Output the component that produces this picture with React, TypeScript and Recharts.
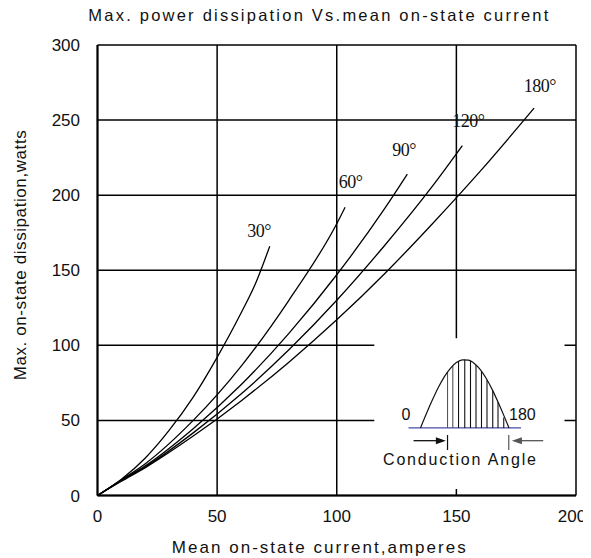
import {
  LineChart,
  Line,
  XAxis,
  YAxis,
  CartesianGrid,
  ReferenceArea,
  ReferenceLine,
  ReferenceDot,
  Label,
  Customized,
} from 'recharts';

const SANS = '"Liberation Sans", Arial, sans-serif';
const SERIF = '"Liberation Serif", "Times New Roman", serif';

const X_TICKS = [0, 50, 100, 150, 200];
const Y_TICKS = [0, 50, 100, 150, 200, 250, 300];

// conduction angles and their curves (mean current A -> dissipation W)
const ANGLES = ['30°', '60°', '90°', '120°', '180°'];
const CURRENT_30 = [0, 10, 20, 30, 40, 50, 60, 66, 72];
const POWER_30 = [0, 10.8, 25, 43.5, 65.5, 92, 121.5, 141, 166];
const CURRENT_60 = [0, 10, 20, 40, 60, 80, 100, 103.5];
const POWER_60 = [0, 10.5, 21.2, 50, 86, 130, 181, 192];
const CURRENT_90 = [0, 10, 20, 40, 60, 80, 100, 120, 129.5];
const POWER_90 = [0, 10.2, 19.8, 44.5, 73.7, 108, 147, 191, 214];
const CURRENT_120 = [0, 10, 20, 40, 60, 80, 100, 120, 140, 152.5];
const POWER_120 = [0, 10, 19.1, 41.7, 67.6, 97, 130, 166.5, 206, 233];
const CURRENT_180 = [0, 10, 20, 40, 60, 80, 100, 120, 140, 160, 182.5];
const POWER_180 = [0, 9.5, 18.6, 39.6, 63, 88.8, 117, 147.7, 181, 216, 258];

const CURRENTS = [CURRENT_30, CURRENT_60, CURRENT_90, CURRENT_120, CURRENT_180];
const POWERS = [POWER_30, POWER_60, POWER_90, POWER_120, POWER_180];

// where each angle label sits (data units)
const LABEL_X = [67.5, 105.8, 128.1, 155.0, 184.9];
const LABEL_Y = [172.3, 204.9, 226.2, 245.5, 268.8];

// inset: half-wave sketch
const WAVE_X = [135, 137.5, 140, 142.5, 145, 147.5, 150, 152.5, 155, 157.5, 160, 162.5, 165, 167.5, 170, 172];
const WAVE_Y = [45, 54.6, 63.7, 72.1, 79.2, 84.7, 88.5, 90.3, 90.1, 87.9, 83.8, 77.9, 70.5, 61.9, 52.7, 45];
const HATCH_X = [146.3, 148.5, 150.9, 153.5, 155.9, 158.2, 160.5, 162.8, 165.2, 167.4, 169.8];
const HATCH_TOP = [82.3, 86.5, 89.4, 90.5, 89.6, 86.9, 82.7, 77.0, 69.8, 62.3, 52];
const WAVE_BASE = 45;

const series = ANGLES.map((name, i) => ({
  name,
  data: CURRENTS[i].map((x, j) => ({ x, y: POWERS[i][j] })),
}));
const wave = WAVE_X.map((x, i) => ({ x, y: WAVE_Y[i] }));

const XTick = ({ x, y, payload }: any) => (
  <text
    x={payload.value === 200 ? x - 4 : x}
    y={y + 26.5}
    textAnchor="middle"
    fontSize={17}
    fontFamily={SANS}
    fill="#111"
  >
    {payload.value}
  </text>
);

const YTick = ({ x, y, payload }: any) => (
  <text x={x - 17.5} y={y + 6} textAnchor="end" fontSize={17} fontFamily={SANS} fill="#111">
    {payload.value}
  </text>
);

const XTitle = ({ viewBox }: any) => (
  <text
    x={viewBox.x + viewBox.width / 2 - 18}
    y={viewBox.y + 57.5}
    textAnchor="middle"
    fontSize={17}
    fontFamily={SANS}
    fill="#111"
    textLength={294}
    lengthAdjust="spacing"
  >
    Mean on-state current,amperes
  </text>
);

const YTitle = ({ viewBox }: any) => {
  const cx = 18;
  const cy = viewBox.y + viewBox.height / 2 - 15;
  return (
    <text
      x={cx}
      y={cy}
      transform={`rotate(-90 ${cx} ${cy})`}
      textAnchor="middle"
      fontSize={17}
      fontFamily={SANS}
      fill="#111"
      textLength={250}
      lengthAdjust="spacing"
    >
      Max. on-state dissipation,watts
    </text>
  );
};

const ChartTitle = () => (
  <text x={80.3} y={20.7} fontSize={16.5} fontFamily={SANS} fill="#111" textLength={460} lengthAdjust="spacing">
    Max. power dissipation Vs.mean on-state current
  </text>
);

const arrowShape = (color: string) => (p: any) => {
  const { x1, y1, x2, y2 } = p;
  const dir = Math.sign(x2 - x1);
  return (
    <g>
      <line x1={x1} y1={y1} x2={x2 - dir * 8} y2={y2} stroke={color} strokeWidth={1.3} />
      <polygon points={`${x2},${y2} ${x2 - dir * 10},${y2 - 3.5} ${x2 - dir * 10},${y2 + 3.5}`} fill={color} />
    </g>
  );
};

const textShape = (text: string, size: number, family: string, extra: any = {}) => (p: any) => (
  <text x={p.cx} y={p.cy} textAnchor="middle" fontSize={size} fontFamily={family} fill="#111" {...extra}>
    {text}
  </text>
);

export default function App() {
  return (
    <div style={{ width: 583, height: 558, marginTop: -8 }}>
      <LineChart width={583} height={558} margin={{ top: 45, right: 15, left: 0, bottom: 0 }}>
        <CartesianGrid stroke="#000" strokeWidth={1.5} fill="none" />
        <XAxis
          type="number"
          dataKey="x"
          domain={[0, 200]}
          ticks={X_TICKS}
          allowDataOverflow
          height={62.5}
          tickLine={false}
          tickSize={0}
          tickMargin={0}
          axisLine={{ stroke: '#000', strokeWidth: 2 }}
          tick={XTick}
        >
          <Label content={XTitle} />
        </XAxis>
        <YAxis
          type="number"
          domain={[0, 300]}
          ticks={Y_TICKS}
          allowDataOverflow
          width={89.5}
          tickLine={false}
          tickSize={0}
          tickMargin={0}
          axisLine={{ stroke: '#000', strokeWidth: 2 }}
          tick={YTick}
        >
          <Label content={YTitle} />
        </YAxis>

        <ReferenceArea x1={115.7} x2={195.2} y1={4.3} y2={104.7} fill="#fff" fillOpacity={1} stroke="none" />

        {series.map((s) => (
          <Line
            key={s.name}
            data={s.data}
            dataKey="y"
            type="monotone"
            stroke="#000"
            strokeWidth={1.3}
            dot={false}
            activeDot={false}
            isAnimationActive={false}
          />
        ))}
        {ANGLES.map((a, i) => (
          <ReferenceDot
            key={a}
            x={LABEL_X[i]}
            y={LABEL_Y[i]}
            r={0}
            shape={textShape(a, 18, SERIF, { letterSpacing: -0.5 })}
          />
        ))}

        {/* inset sketch */}
        <ReferenceLine
          segment={[{ x: 130, y: WAVE_BASE }, { x: 177, y: WAVE_BASE }]}
          stroke="#4a4aa8"
          strokeWidth={1.3}
        />
        {HATCH_X.map((hx, i) => (
          <ReferenceLine
            key={hx}
            segment={[{ x: hx, y: WAVE_BASE }, { x: hx, y: HATCH_TOP[i] }]}
            stroke={i < 2 ? '#555' : '#111'}
            strokeWidth={1.1}
          />
        ))}
        <Line
          data={wave}
          dataKey="y"
          type="monotone"
          stroke="#111"
          strokeWidth={1.2}
          dot={false}
          activeDot={false}
          isAnimationActive={false}
        />
        <ReferenceLine segment={[{ x: 146.3, y: 30.3 }, { x: 146.3, y: 40.3 }]} stroke="#111" strokeWidth={1.2} />
        <ReferenceLine segment={[{ x: 171.9, y: 30.3 }, { x: 171.9, y: 40.3 }]} stroke="#555" strokeWidth={1.2} />
        <ReferenceLine segment={[{ x: 132.1, y: 36.5 }, { x: 145.6, y: 36.5 }]} shape={arrowShape('#111')} />
        <ReferenceLine segment={[{ x: 186.3, y: 36.5 }, { x: 173.2, y: 36.5 }]} shape={arrowShape('#555')} />
        <ReferenceDot x={128.9} y={50.3} r={0} shape={textShape('0', 16, SANS)} />
        <ReferenceDot x={177.6} y={50.3} r={0} shape={textShape('180', 16, SANS)} />
        <ReferenceDot
          x={151.3}
          y={20.3}
          r={0}
          shape={textShape('Conduction Angle', 16, SANS, { textLength: 153, lengthAdjust: 'spacing' })}
        />

        <Customized component={<ChartTitle />} />
      </LineChart>
    </div>
  );
}
